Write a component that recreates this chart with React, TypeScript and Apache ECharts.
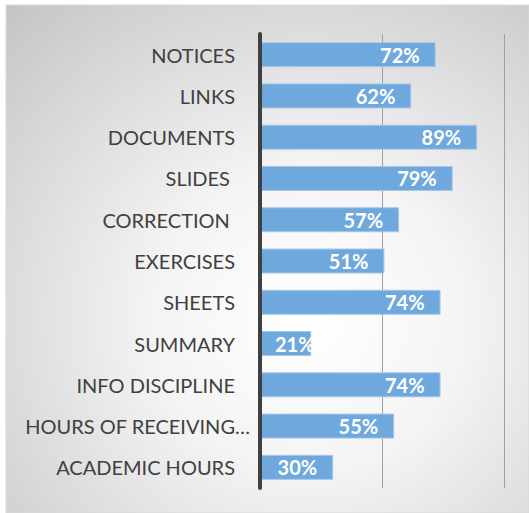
import React, { useEffect, useRef } from "react";
import * as echarts from "echarts";

const categories = [
  "NOTICES",
  "LINKS",
  "DOCUMENTS",
  "SLIDES ",
  "CORRECTION ",
  "EXERCISES",
  "SHEETS",
  "SUMMARY",
  "INFO DISCIPLINE",
  "HOURS OF RECEIVING…",
  "ACADEMIC HOURS",
];
const values = [72, 62, 89, 79, 57, 51, 74, 21, 74, 55, 30];
const axisMax = 100;
const axisInterval = 50;

export default function App() {
  const ref = useRef<HTMLDivElement>(null);
  useEffect(() => {
    if (!ref.current) return;
    const chart = echarts.init(ref.current, null, { renderer: "svg" });
    const data = values.map((v) =>
      v < 25
        ? { value: v, label: { position: "insideLeft", distance: 15 } }
        : { value: v }
    );
    chart.setOption({
      animation: false,
      graphic: [
        {
          type: "rect",
          z: -10,
          silent: true,
          shape: { x: 6, y: 5, width: 523, height: 508 },
          style: {
            fill: new echarts.graphic.RadialGradient(0.58, 0.62, 0.85, [
              { offset: 0, color: "#ffffff" },
              { offset: 0.35, color: "#f4f4f4" },
              { offset: 1, color: "#c4c4c4" },
            ]),
            stroke: "#d9d9d9",
            lineWidth: 1,
          },
        },
      ],
      grid: { left: 260, right: 25, top: 34, bottom: 25, containLabel: false },
      xAxis: {
        type: "value",
        min: 0,
        max: axisMax,
        interval: axisInterval,
        axisLabel: { show: false },
        axisLine: { show: false },
        axisTick: { show: false },
        splitLine: { show: true, lineStyle: { color: "#a0a0a0", width: 1 } },
      },
      yAxis: {
        type: "category",
        inverse: true,
        data: categories,
        axisLine: { show: true, lineStyle: { color: "#404040", width: 4 } },
        axisTick: { show: false },
        axisLabel: {
          color: "#404040",
          fontFamily: "Lato",
          fontSize: 20,
          margin: 25,
          formatter: (v: string) => (v.endsWith("…") ? `{e|${v}}` : v),
          rich: {
            e: {
              color: "#404040",
              fontFamily: "Lato",
              fontSize: 20,
              padding: [0, -15, 0, 0],
            },
          },
        },
        z: 5,
      },
      series: [
        {
          type: "bar",
          data,
          barWidth: 25,
          itemStyle: {
            color: "#6fa8dc",
            borderColor: "#a6c8e9",
            borderWidth: 1,
          },
          label: {
            show: true,
            position: "insideRight",
            distance: 16,
            color: "#ffffff",
            fontFamily: "Lato",
            fontWeight: "bold",
            fontSize: 20,
            formatter: (p: any) => `${p.value}%`,
          },
        },
      ],
    });
    return () => chart.dispose();
  }, []);
  return (
    <div
      ref={ref}
      style={{ position: "absolute", left: 0, top: 0, width: 529, height: 513, background: "#ffffff" }}
    />
  );
}
